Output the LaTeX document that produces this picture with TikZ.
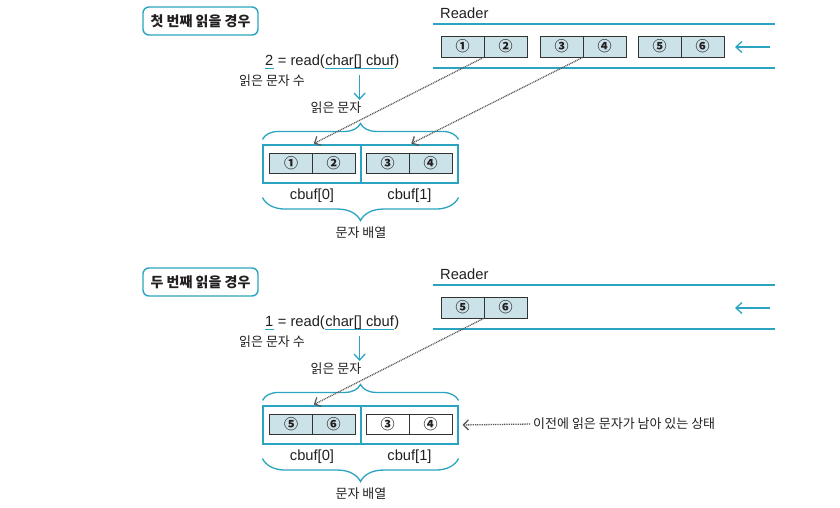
\documentclass[tikz,border=0pt]{standalone}
\usepackage{fontspec}
\setmainfont{Liberation Sans}
\newfontfamily\kr{Noto Sans CJK KR}
\usetikzlibrary{arrows.meta,decorations.pathreplacing,calc}
\definecolor{cy}{HTML}{2AA4C0}
\definecolor{cellfill}{HTML}{CCE2E9}
\definecolor{celldraw}{HTML}{333333}
\definecolor{dotgray}{HTML}{5A5A5A}
\definecolor{txt}{HTML}{231F20}
\tikzset{
  cell/.style={draw=celldraw, line width=1pt, fill=cellfill, minimum width=43pt,
    minimum height=21pt, inner sep=0pt, text=txt, font=\kr\bfseries\fontsize{14}{14}\selectfont},
  blankcell/.style={cell, fill=white},
  outerbox/.style={draw=cy, line width=1.1pt, minimum height=38pt, inner sep=0pt},
  titlebox/.style={draw=cy, line width=1.4pt, rounded corners=6pt, minimum width=115pt,
    minimum height=28pt, text=txt, font=\kr\bfseries\fontsize{14}{14}\selectfont},
  lat/.style={text=txt, inner sep=0pt, font=\fontsize{14.7}{14.7}\selectfont},
  krl/.style={text=txt, inner sep=0pt, font=\kr\fontsize{13}{13}\selectfont},
  streamline/.style={draw=cy, line width=1.4pt},
  cyline/.style={draw=cy, line width=1.3pt},
  cyarrow/.style={draw=cy, line width=1.3pt, -{Straight Barb[length=6pt,width=11pt]}},
  dotarrow/.style={draw=dotgray, line width=1.3pt, dash pattern=on 1pt off 0.8pt,
    -{Straight Barb[length=5pt,width=10pt]}},
  bracetop/.style={draw=cy, line width=1.3pt, decorate,
    decoration={brace, amplitude=16pt, raise=5pt}},
  bracebot/.style={draw=cy, line width=1.3pt, decorate,
    decoration={brace, amplitude=23pt, raise=14pt}},
}
\begin{document}
\begin{tikzpicture}[x=1pt, y=-1pt]
\path[use as bounding box] (0,0) rectangle (840,507);

% ================= first read =================
\node[titlebox] (title1) at (200.5,21) {첫 번째 읽을 경우};
\node[lat, anchor=base west] (readerA) at (440,18) {Reader};
\coordinate (sA1) at (433,24); \coordinate (sA2) at (775,24);
\coordinate (sA3) at (433,68); \coordinate (sA4) at (775,68);
\draw[streamline] (sA1) -- (sA2);
\draw[streamline] (sA3) -- (sA4);
\node[cell] (rA1) at (462.5,46.5) {①};
\node[cell] (rA2) at (505.5,46.5) {②};
\node[cell] (rA3) at (561.5,46.5) {③};
\node[cell] (rA4) at (604.5,46.5) {④};
\node[cell] (rA5) at (659.5,46.5) {⑤};
\node[cell] (rA6) at (702.5,46.5) {⑥};
\coordinate (inA1) at (770,47); \coordinate (inA2) at (735,47);
\draw[cyarrow] (inA1) -- (inA2);

\node[lat, anchor=base west] (twoA) at (265,65) {2};
\node[lat, anchor=base west] (eqA) at (twoA.base east) {\hspace{0.28em}= read(};
\node[lat, anchor=base west] (chA) at (eqA.base east) {char[]\ cbuf};
\node[lat, anchor=base west] (clA) at (chA.base east) {)};
\draw[cyline] ($(twoA.base west)+(0,3.5)$) -- ($(twoA.base east)+(0,3.5)$);
\draw[cyline] ($(chA.base west)+(0,3.5)$) -- ($(chA.base east)+(0,3.5)$);
\node[krl] (cntA) at (272,81) {읽은 문자 수};
\draw[cyarrow] ($(chA.base)+(0,10)$) -- ($(chA.base)+(0,35)$);
\node[krl] (rdA) at (336,108) {읽은 문자};

\node[outerbox, minimum width=98pt] (oA0) at (312,164) {};
\node[outerbox, minimum width=97pt] (oA1) at (409.5,164) {};
\node[cell, minimum height=20pt] (bA1) at (291,163) {①};
\node[cell, minimum height=20pt] (bA2) at (333.5,163) {②};
\node[cell, minimum height=20pt] (bA3) at (387.5,163) {③};
\node[cell, minimum height=20pt] (bA4) at (430.5,163) {④};
\draw[bracetop] (oA0.north west) -- (oA1.north east);
\node[lat] (cbA0) at (312,196) {cbuf[0]};
\node[lat] (cbA1) at (409.5,196) {cbuf[1]};
\draw[bracebot] (oA1.south east) -- (oA0.south west);
\node[krl] (arrA) at (361,233) {문자 배열};

\draw[dotarrow, shorten >=2pt] (rA2.south west) -- (oA0.north);
\draw[dotarrow, shorten >=2pt] (rA4.south west) -- (oA1.north);

% ================= second read =================
\node[titlebox] (title2) at (200.5,282) {두 번째 읽을 경우};
\node[lat, anchor=base west] (readerB) at (440,279) {Reader};
\coordinate (sB1) at (433,285); \coordinate (sB2) at (775,285);
\coordinate (sB3) at (433,329); \coordinate (sB4) at (775,329);
\draw[streamline] (sB1) -- (sB2);
\draw[streamline] (sB3) -- (sB4);
\node[cell] (rB5) at (462.5,307.5) {⑤};
\node[cell] (rB6) at (505.5,307.5) {⑥};
\coordinate (inB1) at (770,308); \coordinate (inB2) at (735,308);
\draw[cyarrow] (inB1) -- (inB2);

\node[lat, anchor=base west] (twoB) at (265,326) {1};
\node[lat, anchor=base west] (eqB) at (twoB.base east) {\hspace{0.28em}= read(};
\node[lat, anchor=base west] (chB) at (eqB.base east) {char[]\ cbuf};
\node[lat, anchor=base west] (clB) at (chB.base east) {)};
\draw[cyline] ($(twoB.base west)+(0,3.5)$) -- ($(twoB.base east)+(0,3.5)$);
\draw[cyline] ($(chB.base west)+(0,3.5)$) -- ($(chB.base east)+(0,3.5)$);
\node[krl] (cntB) at (272,342) {읽은 문자 수};
\draw[cyarrow] ($(chB.base)+(0,10)$) -- ($(chB.base)+(0,35)$);
\node[krl] (rdB) at (336,369) {읽은 문자};

\node[outerbox, minimum width=98pt] (oB0) at (312,425) {};
\node[outerbox, minimum width=97pt] (oB1) at (409.5,425) {};
\node[cell, minimum height=20pt] (bB1) at (291,424) {⑤};
\node[cell, minimum height=20pt] (bB2) at (333.5,424) {⑥};
\node[blankcell, minimum height=20pt] (bB3) at (387.5,424) {③};
\node[blankcell, minimum height=20pt] (bB4) at (430.5,424) {④};
\draw[bracetop] (oB0.north west) -- (oB1.north east);
\node[lat] (cbB0) at (312,457) {cbuf[0]};
\node[lat] (cbB1) at (409.5,457) {cbuf[1]};
\draw[bracebot] (oB1.south east) -- (oB0.south west);
\node[krl] (arrB) at (361,494) {문자 배열};

\draw[dotarrow, shorten >=2pt] (rB6.south west) -- (oB0.north);
\node[krl, anchor=west] (note) at (533,424) {이전에 읽은 문자가 남아 있는 상태};
\draw[dotarrow, shorten <=3pt, shorten >=4pt] (note.west) -- (oB1.east);
\end{tikzpicture}
\end{document}
